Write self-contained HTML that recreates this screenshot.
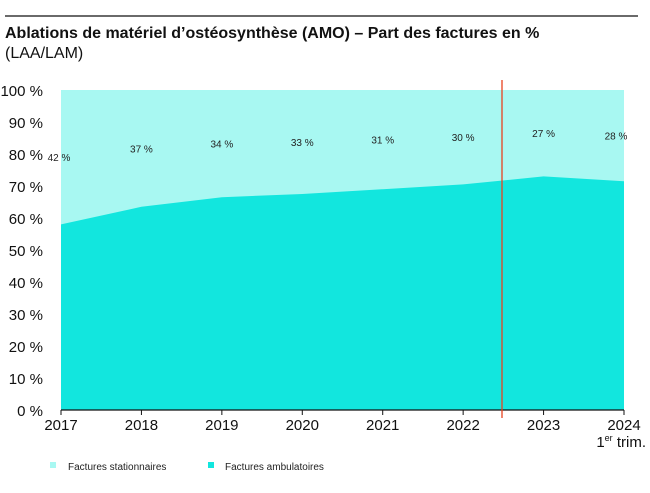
<!DOCTYPE html>
<html><head><meta charset="utf-8"><style>
body{margin:0;background:#fff;font-family:"Liberation Sans",Arial,sans-serif;}
svg text{font-family:"Liberation Sans",Arial,sans-serif;}
</style></head><body>
<svg width="650" height="488" viewBox="0 0 650 488">
<line x1="5" y1="16" x2="638" y2="16" stroke="#111" stroke-width="1.2"/>
<text x="5" y="38" font-size="16" font-weight="bold" fill="#111">Ablations de matériel d’ostéosynthèse (AMO) – Part des factures en %</text>
<text x="5" y="58" font-size="16" fill="#111">(LAA/LAM)</text>
<g id="plot"></g>
<g>
<rect x="50" y="462" width="6" height="6" fill="#a8f8f2"/>
<text x="68" y="470" font-size="10" fill="#222">Factures stationnaires</text>
<rect x="208" y="462" width="6" height="6" fill="#12e6de"/>
<text x="225" y="470" font-size="10" fill="#222">Factures ambulatoires</text>
</g>
</svg>
<script>
const years=["2017","2018","2019","2020","2021","2022","2023","2024"];
const ambulatoire=[58,63.5,66.5,67.5,69,70.5,73,71.5];
const stationnaireLabels=[42,37,34,33,31,30,27,28];
const yTicks=[0,10,20,30,40,50,60,70,80,90,100];
const ns="http://www.w3.org/2000/svg";
const X0=61,X1=624,Y0=410,Y1=90;
const x=i=>X0+(X1-X0)*i/(years.length-1);
const y=v=>Y0-(Y0-Y1)*v/100;
const g=document.getElementById("plot");
function mk(t,a){const e=document.createElementNS(ns,t);for(const k in a)e.setAttribute(k,a[k]);g.appendChild(e);return e;}
let bg=mk("rect",{x:X0,y:y(100),width:X1-X0,height:y(0)-y(100),fill:"#a8f8f2"});


let d="M"+x(0)+","+y(0);
ambulatoire.forEach((v,i)=>{d+=" L"+x(i)+","+y(v);});
d+=" L"+x(years.length-1)+","+y(0)+" Z";
let ar=mk("path",{d:d,fill:"#12e6de"});


yTicks.forEach(v=>{const t=mk("text",{x:43,y:y(v)+6,"font-size":"15","text-anchor":"end",fill:"#111"});t.textContent=v+" %";

});
const ax=mk("line",{x1:X0,y1:Y0,x2:X1,y2:Y0,stroke:"#111","stroke-width":"1.3"});


years.forEach((yr,i)=>{
const tk=mk("line",{x1:x(i),y1:Y0,x2:x(i),y2:Y0+5,stroke:"#111","stroke-width":"1"});


const t=mk("text",{x:x(i),y:Y0+20,"font-size":"15","text-anchor":"middle",fill:"#111"});t.textContent=yr;


let lx=x(i);if(i===0)lx=x(i)-2;if(i===years.length-1)lx=x(i)-8;
const l=mk("text",{x:lx,y:(y(100)+y(ambulatoire[i]))/2+4,"font-size":"10","text-anchor":"middle",fill:"#222"});l.textContent=stationnaireLabels[i]+" %";


});
const tr=mk("text",{x:646,y:Y0+37,"font-size":"15","text-anchor":"end",fill:"#111"});
tr.innerHTML='1<tspan font-size="9" dy="-6">er</tspan><tspan dy="6"> trim.</tspan>';


const rl=mk("line",{x1:502,y1:80,x2:502,y2:418,stroke:"#e8431f","stroke-width":"1.3"});


</script>
</body></html>
